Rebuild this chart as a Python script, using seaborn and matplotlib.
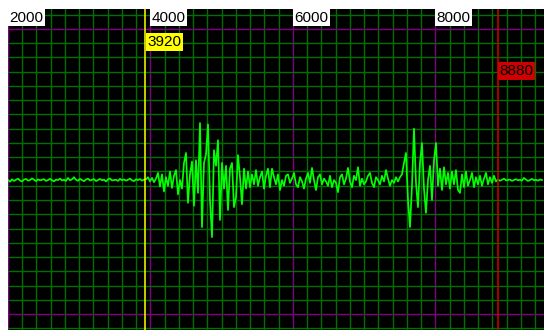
import numpy as np
import matplotlib
matplotlib.use("Agg")
import matplotlib.pyplot as plt
from matplotlib.ticker import MultipleLocator, FixedLocator
from matplotlib.transforms import blended_transform_factory
import seaborn as sns

# ---------------- data ----------------
X_START = 2000
X_STEP = 28.07
MAJOR_TICKS = [2000, 4000, 6000, 8000]
MAJOR_LABELS = ["2000", "4000", "6000", "8000"]
CURSOR_A = 3920
CURSOR_B = 8880

quiet_head = [-60, -72, -55, -66, -58, -50, -63, -70, -57, -52,
              -64, -60, -48, -58, -67, -55, -62, -58, -54, -66,
              -60, -52, -61, -69, -57, -60, -50, -63, -58, -66,
              -45, -62, -55, -40, -58, -65, -52, -60, -68, -56,
              -50, -63, -58, -54, -67, -60, -52, -62, -57, -70,
              -55, -49, -63, -60, -58, -66, -52, -61, -56, -64,
              -58, -50, -62, -67, -55, -60, -53, -64, -57]
burst_one = [-55, -40, -70, -45, -75, -50, -10, -105, -20, -140,
             -40, -100, 0, -115, -30, 10, -160, -60, -120, 60,
             130, -220, -20, 70, -240, 80, -150, 340, -390, 60,
             120, 330, -200, -460, 150, 40, 220, -340, 60, -120,
             40, -270, 20, 60, -250, -180, 115, -40, -230, 20,
             -120, 0, -110, -20, -90, 10, -100, -40, 0, -120,
             -30, 20, -110]
noise_mid = [20, -40, -90, -20, -130, -60, -100, -30, -20, -80,
             -50, -10, -90, -110, -40, -70, -120, -50, -10, -80,
             25, -60, -130, -40, -20, -90, -50, -70, -100, -30,
             -110, -60, -80, -145, -40, -20, -90, -50, 25, -70,
             -110, -30, -60, 30, -100, -50, -90, -70, -30, -10,
             -80, -110, -40, -60, -90, -30, -70, 10, -50, -100,
             -60, -80, -40, -70]
burst_two = [-40, -20, 60, 130, -200, -390, -100, 300, -80, -250,
             60, 200, -120, -290, -60, 40, -200, 80, 200, -100,
             20, -130, 30, -90, -10]
decay = [-120, 0, -90, 10, -130, -150, -20, -110, 0, -100,
         -60, -10, -110, -40, -90, -30, -100, -50, -10, -90,
         -40, -80, -30, -70]
quiet_tail = [-55, -65, -58, -50, -62, -60, -56, -66, -60, -54,
              -62, -58, -64, -45, -57, -66, -60, -52, -62, -58,
              -64, -56, -60]

signal = np.array(quiet_head + burst_one + noise_mid + burst_two + decay + quiet_tail, dtype=float)
x = X_START + X_STEP * np.arange(len(signal))

# ---------------- style ----------------
BG = "#000000"
GRID_GREEN = "#007000"
PURPLE = "#800080"
WAVE = "#00ff00"
YELLOW = "#ffff00"
RED = "#d00000"
FONT = ["Liberation Sans", "DejaVu Sans"]

W, H = 544, 330
fig = plt.figure(figsize=(W / 100, H / 100), dpi=100)
fig.patch.set_facecolor("white")
ax = fig.add_axes([8 / W, 0, (W - 8) / W, (H - 9) / H])
ax.set_facecolor(BG)

sns.lineplot(x=x, y=signal, ax=ax, color=WAVE, linewidth=1.25,
             estimator=None, sort=False, zorder=3)

ax.set_xlim(2000, 9523)
ax.set_ylim(-1112, 1140)

ax.xaxis.set_major_locator(FixedLocator(MAJOR_TICKS))
ax.xaxis.set_minor_locator(MultipleLocator(200))
ax.yaxis.set_major_locator(FixedLocator([-1000, 1000]))
ax.yaxis.set_minor_locator(MultipleLocator(100))
ax.tick_params(which="both", length=0, labelbottom=False, labelleft=False)
ax.set_axisbelow(True)
ax.grid(which="minor", color=GRID_GREEN, linewidth=1.0)
ax.grid(which="major", color=PURPLE, linewidth=1.0)
for s in ax.spines.values():
    s.set_visible(False)
ax.set_xlabel("")
ax.set_ylabel("")

# cursors
ax.axvline(CURSOR_A, color=YELLOW, linewidth=1.1, zorder=4)
ax.axvline(CURSOR_B, color=RED, linewidth=1.1, zorder=4)

trans = blended_transform_factory(ax.transData, ax.transAxes)
box = dict(boxstyle="square,pad=0.1", edgecolor="none")

def label(xv, yfrac, text, fc):
    ax.text(xv, yfrac, text, transform=trans, ha="left", va="top",
            fontsize=11, family=FONT, color="black",
            bbox=dict(box, facecolor=fc), zorder=5)

for t, lab in zip(MAJOR_TICKS, MAJOR_LABELS):
    label(t + 15, 1 - 1.5 / 321, lab, "white")
label(CURSOR_A + 35, 1 - 26 / 321, str(CURSOR_A), YELLOW)
label(CURSOR_B + 15, 1 - 55 / 321, str(CURSOR_B), RED)

fig.savefig("out.png", dpi=100, facecolor=fig.get_facecolor())
